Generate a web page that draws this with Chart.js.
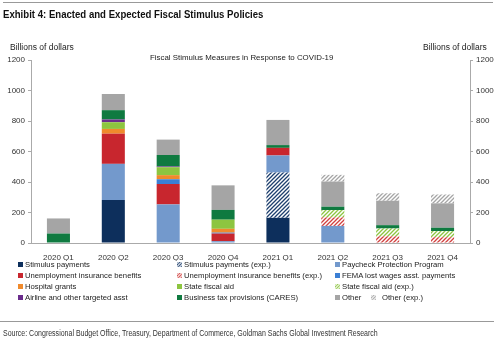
<!doctype html>
<html>

<head>
    <title>Fiscal Stimulus</title>
    <script src="https://cdn.jsdelivr.net/npm/chart.js"></script>
</head>

<style>
    body { margin: 0; background: white; font-family: "Liberation Sans", Arial, sans-serif; color: #222; }
    #quadro { position: relative; width: 500px; height: 344px; overflow: hidden; }
    #grafico { position: absolute; left: 0; top: 0; }
    .txt { position: absolute; white-space: nowrap; font-size: 8.5px; }
    .linha { position: absolute; height: 1px; background: #999; }
    #titulo { left: 3px; top: 8px; font-weight: bold; font-size: 11.5px; color: #111; transform: scaleX(0.835); transform-origin: left; }
    #fonte { left: 3px; top: 328px; font-size: 8.5px; color: #333; transform: scaleX(0.825); transform-origin: left; }
    .leg { position: absolute; white-space: nowrap; font-size: 7.7px; line-height: 10px; }
    .leg i { display: inline-block; width: 5px; height: 5px; margin-right: 2px; vertical-align: 0px; }
</style>

<body>
    <div id="quadro">
        <canvas id="grafico" width="500" height="344"></canvas>
        <div class="linha" style="left:3px; top:2px; width:490px;"></div>
        <div class="txt" id="titulo">Exhibit 4: Enacted and Expected Fiscal Stimulus Policies</div>
        <div class="txt" style="left:10px; top:42px;">Billions of dollars</div>
        <div class="txt" style="left:423px; top:42px;">Billions of dollars</div>
        <div class="txt" style="left:150px; top:53px; font-size: 7.9px;">Fiscal Stimulus Measures in Response to COVID-19</div>
        <div id="legenda"></div>
        <div class="linha" style="left:0px; top:321px; width:494px;"></div>
        <div class="txt" id="fonte">Source: Congressional Budget Office, Treasury, Department of Commerce, Goldman Sachs Global Investment Research</div>
    </div>

    <script>
        // dados (bilhoes de dolares)
        var trimestres = ['2020 Q1', '2020 Q2', '2020 Q3', '2020 Q4', '2021 Q1', '2021 Q2', '2021 Q3', '2021 Q4'];
        var stimulus = [0, 282, 0, 0, 165, 0, 0, 0];
        var stimulusExp = [0, 0, 0, 0, 297, 0, 0, 0];
        var ppp = [0, 237, 253, 12, 112, 112, 0, 0];
        var ui = [0, 198, 134, 50, 50, 0, 0, 0];
        var uiExp = [0, 0, 0, 0, 0, 56, 44, 38];
        var fema = [0, 0, 31, 6, 0, 0, 0, 0];
        var hospital = [0, 31, 27, 25, 0, 0, 0, 0];
        var stateAid = [0, 44, 52, 60, 0, 0, 0, 0];
        var stateAidExp = [0, 0, 0, 0, 0, 48, 51, 40];
        var airline = [0, 18, 5, 0, 0, 0, 0, 0];
        var businessTax = [62, 61, 75, 64, 18, 22, 22, 22];
        var other = [99, 106, 101, 161, 165, 165, 160, 160];
        var otherExp = [0, 0, 0, 0, 0, 44, 49, 58];
        var eixoTicks = [0, 200, 400, 600, 800, 1000, 1200];

        function hachura(fundo, traco) {
            var c = document.createElement('canvas');
            c.width = 4; c.height = 4;
            var g = c.getContext('2d');
            g.fillStyle = fundo;
            g.fillRect(0, 0, 4, 4);
            g.strokeStyle = traco;
            g.lineWidth = 1.3;
            g.beginPath();
            g.moveTo(0, 4); g.lineTo(4, 0);
            g.moveTo(-1, 1); g.lineTo(1, -1);
            g.moveTo(3, 5); g.lineTo(5, 3);
            g.stroke();
            return c;
        }

        var series = [
            { label: 'Stimulus payments', data: stimulus, cor: '#0d2f5c' },
            { label: 'Stimulus payments (exp.)', data: stimulusExp, hach: ['#ffffff', '#1d3f6e'] },
            { label: 'Paycheck Protection Program', data: ppp, cor: '#7399cc' },
            { label: 'Unemployment insurance benefits', data: ui, cor: '#c8262e' },
            { label: 'Unemployment insurance benefits (exp.)', data: uiExp, hach: ['#ffffff', '#d2403f'] },
            { label: 'FEMA lost wages asst. payments', data: fema, cor: '#3b7fd4' },
            { label: 'Hospital grants', data: hospital, cor: '#f08a2c' },
            { label: 'State fiscal aid', data: stateAid, cor: '#8dc540' },
            { label: 'State fiscal aid (exp.)', data: stateAidExp, hach: ['#ffffff', '#8dc540'] },
            { label: 'Airline and other targeted asst', data: airline, cor: '#6a2c8c' },
            { label: 'Business tax provisions (CARES)', data: businessTax, cor: '#0f7a40' },
            { label: 'Other', data: other, cor: '#a5a5a5' },
            { label: 'Other (exp.)', data: otherExp, hach: ['#ffffff', '#a5a5a5'] }
        ];

        var ctx = document.getElementById('grafico').getContext('2d');
        var datasets = series.map(function (s) {
            var bg = s.cor;
            if (s.hach) {
                s.tela = hachura(s.hach[0], s.hach[1]);
                bg = ctx.createPattern(s.tela, 'repeat');
            }
            return { label: s.label, data: s.data, backgroundColor: bg, borderWidth: 0, yAxisID: 'y' };
        });

        var fonteTicks = { size: 8, family: 'Liberation Sans' };
        function semVirgula(v) { return String(v); }

        var grafico = new Chart(ctx, {
            type: 'bar',
            data: { labels: trimestres, datasets: datasets },
            options: {
                responsive: false,
                animation: false,
                layout: { padding: { top: 60, bottom: 83, left: 0, right: 0 } },
                datasets: { bar: { categoryPercentage: 1, barPercentage: 0.42 } },
                plugins: { legend: { display: false }, tooltip: { enabled: false } },
                scales: {
                    x: {
                        stacked: true,
                        grid: { display: false },
                        border: { color: '#aaa' },
                        ticks: { color: '#333', font: fonteTicks, padding: 2 },
                        afterFit: function (s) { s.height = 18; }
                    },
                    y: {
                        stacked: true,
                        position: 'left',
                        min: 0, max: 1200,
                        afterBuildTicks: function (s) { s.ticks = eixoTicks.map(function (v) { return { value: v }; }); },
                        grid: { drawOnChartArea: false, tickLength: 3, color: '#aaa' },
                        border: { color: '#aaa' },
                        ticks: { color: '#333', font: fonteTicks, padding: 3, callback: semVirgula },
                        afterFit: function (s) { s.width = 31; }
                    },
                    y2: {
                        position: 'right',
                        min: 0, max: 1200,
                        afterBuildTicks: function (s) { s.ticks = eixoTicks.map(function (v) { return { value: v }; }); },
                        grid: { drawOnChartArea: false, tickLength: 3, color: '#aaa' },
                        border: { color: '#aaa' },
                        ticks: { color: '#333', font: fonteTicks, padding: 3, callback: semVirgula },
                        afterFit: function (s) { s.width = 30; }
                    }
                }
            }
        });

        // legenda em html, colunas como no original
        var colunas = [
            { x: 18, itens: ['Stimulus payments', 'Unemployment insurance benefits', 'Hospital grants', 'Airline and other targeted asst'] },
            { x: 177, itens: ['Stimulus payments (exp.)', 'Unemployment insurance benefits (exp.)', 'State fiscal aid', 'Business tax provisions (CARES)'] },
            { x: 335, itens: ['Paycheck Protection Program', 'FEMA lost wages asst. payments', 'State fiscal aid (exp.)', 'Other'] },
            { x: 371, itens: [null, null, null, 'Other (exp.)'] }
        ];
        var legenda = document.getElementById('legenda');
        colunas.forEach(function (col) {
            col.itens.forEach(function (nome, i) {
                if (!nome) return;
                var s = series.find(function (d) { return d.label === nome; });
                var el = document.createElement('div');
                el.className = 'leg';
                el.style.left = col.x + 'px';
                el.style.top = (260 + i * 11) + 'px';
                var box = document.createElement('i');
                if (s.tela) {
                    box.style.backgroundImage = 'url(' + s.tela.toDataURL() + ')';
                    box.style.backgroundSize = '3px 3px';
                } else {
                    box.style.background = s.cor;
                }
                el.appendChild(box);
                el.appendChild(document.createTextNode(nome));
                if (nome === 'Other (exp.)') box.style.marginRight = '6px';
                legenda.appendChild(el);
            });
        });
    </script>
</body>

</html>
